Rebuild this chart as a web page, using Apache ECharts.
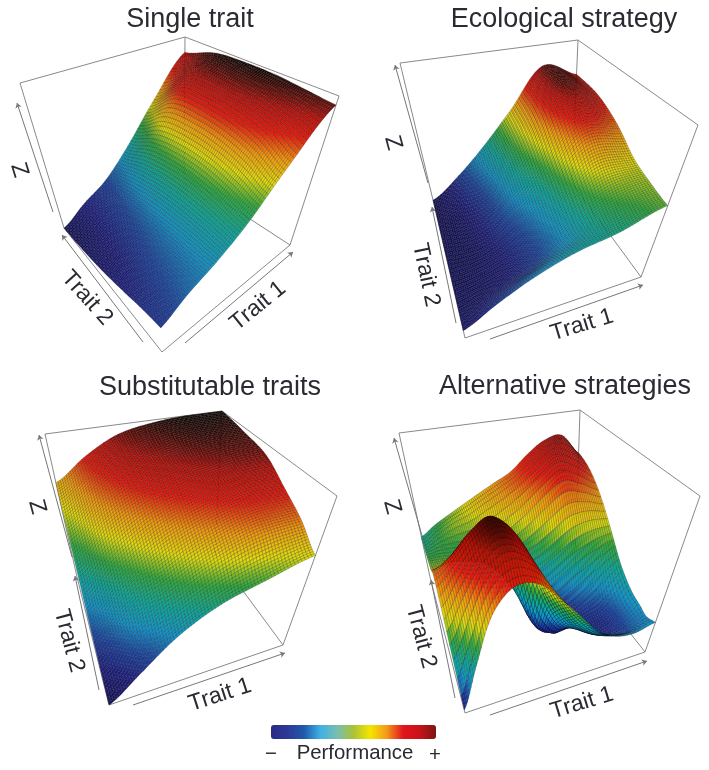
<!DOCTYPE html>
<html><head><meta charset="utf-8">
<style>html,body{margin:0;padding:0;background:#fff}#c{width:709px;height:770px;filter:blur(0.45px)}</style>
<script src="https://cdn.jsdelivr.net/npm/echarts@6/dist/echarts.min.js"></script>
</head><body><div id="c"></div>
<script>
// Surface heights. Rows: Trait 2 from front to back. Columns: Trait 1 from low to high.
const singleTraitZ = [
 [.155,.24,.32,.45,.68,.94],
 [.13,.21,.32,.49,.77,.96],
 [.09,.18,.31,.52,.82,.98],
 [.05,.14,.29,.52,.84,.985],
 [.02,.11,.25,.48,.82,.97],
 [0,.10,.20,.38,.63,.89]
];
const ecologicalStrategyZ = [
 [.05,.15,.25,.33,.38,.47],
 [.03,.07,.14,.27,.44,.50],
 [.02,.05,.14,.31,.55,.55],
 [.01,.05,.20,.40,.70,.66],
 [.01,.08,.26,.52,.84,.74],
 [0,.14,.33,.57,.85,.76]
];
const substitutableTraitsZ = [
 [0,.14,.31,.44,.52,.60],
 [.12,.30,.46,.60,.70,.72],
 [.26,.45,.62,.74,.81,.82],
 [.43,.62,.76,.85,.91,.93],
 [.57,.74,.86,.93,.97,.97],
 [.66,.81,.93,.98,1,1]
];
const alternativeStrategiesZ = [
 [.02,.27,.56,.70,.68,.54,.39,.25,.18,.16,.19],
 [.30,.50,.72,.82,.74,.52,.30,.18,.12,.11,.17],
 [.50,.66,.82,.90,.76,.44,.22,.12,.07,.08,.19],
 [.62,.72,.86,.92,.74,.34,.12,.08,.05,.08,.21],
 [.58,.66,.78,.84,.60,.12,.00,.03,.07,.12,.25],
 [.50,.54,.60,.60,.36,.06,.02,.07,.14,.22,.31],
 [.43,.44,.44,.42,.26,.14,.14,.22,.30,.36,.40],
 [.38,.38,.36,.32,.28,.28,.34,.42,.50,.52,.50],
 [.34,.36,.36,.36,.38,.44,.52,.62,.70,.66,.60],
 [.30,.36,.42,.46,.52,.58,.65,.74,.82,.78,.68],
 [.28,.35,.41,.47,.53,.59,.65,.75,.83,.85,.72]
];
const panelTitles = ['Single trait','Ecological strategy','Substitutable traits','Alternative strategies'];
const legendStops = ['#2b2a86','#2c3a96','#2159ac','#3fb2e4','#79bdb0','#a9c238','#f5e600','#f59a1a','#e2161c','#c81218','#7c1512'];
const surfaceStops = ['#15125c','#1e1e84','#1c46a6','#1296cc','#0fa89a','#30aa3e','#e2dc0c','#f49c0c','#ea1a0c','#b8120c','#140a06'];

// Projection of each plot box: corners A,B,C,D (bottom, then top) in the page plane.
const boxes = [
 {b:[[64,228],[184,176],[290,245],[162,352]], t:[[20,83],[185,37],[339,96],[154,197]], nu:72, nv:72, lw:.45, la:.44, g:1, cmax:1},
 {b:[[433,200],[572,183],[641,277],[465,338]], t:[[400,63],[578,40],[698,125],[430,192]], nu:80, nv:72, lw:.45, la:.44, g:1, cmax:1.04},
 {b:[[77,577],[215,553],[283,645],[109,705]], t:[[45,434],[222,411],[337,496],[76,560]], nu:72, nv:72, lw:.45, la:.44, g:1, cmax:1},
 {b:[[430,577],[575,563],[645,652],[465,713]], t:[[399,433],[580,410],[700,496],[432,560]], nu:90, nv:34, lw:.5, la:.42, g:.72, cmax:1.03}
];
const grids = [singleTraitZ, ecologicalStrategyZ, substitutableTraitsZ, alternativeStrategiesZ];

const arrows = [
 [[53,212],[17,103]],[[143,342],[62,235]],[[185,343],[293,252]],
 [[428,183],[395,65]],[[456,323],[432,207]],[[490,339],[643,285]],
 [[72,557],[39,435]],[[99,690],[75,576]],[[133,705],[285,653]],
 [[427,553],[394,438]],[[455,698],[431,580]],[[490,715],[647,661]]
];
const axisLabels = [
 ['Z',19,170,-73],['Trait 2',87,298,-48],['Trait 1',258,306,39],
 ['Z',393,143,-75],['Trait 2',426,275,-78],['Trait 1',582,325,17],
 ['Z',37,507,-75],['Trait 2',69,641,-75],['Trait 1',220,695,18],
 ['Z',392,507,-75],['Trait 2',421,637,-75],['Trait 1',582,703,17]
];
const titlePos = [[190,20],[564,20],[210,388],[565,387]];

function cr(p0,p1,p2,p3,t){
 return .5*((2*p1)+(-p0+p2)*t+(2*p0-5*p1+4*p2-p3)*t*t+(-p0+3*p1-3*p2+p3)*t*t*t);
}
function smooth1(a,s){
 const n=a.length-1, f=Math.min(s*n,n-1e-9), k=Math.floor(f), t=f-k;
 return cr(a[Math.max(k-1,0)],a[k],a[k+1],a[Math.min(k+2,n)],t);
}
function height(g,u,v){
 return Math.min(1,Math.max(0,smooth1(g.map(r=>smooth1(r,u)),v)));
}
function bil(q,u,v){
 const w=[(1-u)*v,u*v,u*(1-v),(1-u)*(1-v)];
 return [0,1].map(k=>w[0]*q[0][k]+w[1]*q[1][k]+w[2]*q[2][k]+w[3]*q[3][k]);
}
function buildSurface(g,box){
 const pts=[]; let zmax=0;
 for(let i=0;i<=box.nu;i++){const col=[];for(let j=0;j<=box.nv;j++){
  const u=i/box.nu,v=j/box.nv,z=height(g,u,v),b=bil(box.b,u,v),t=bil(box.t,u,v);
  zmax=Math.max(zmax,z);
  col.push([b[0]+(t[0]-b[0])*z,b[1]+(t[1]-b[1])*z,z]);
 }pts.push(col);}
 return {pts,zmax};
}
function surfaceSeries(g,box){
 const s=buildSurface(g,box), data=[];
 for(let j=box.nv-1;j>=0;j--)for(let i=box.nu-1;i>=0;i--)data.push([i,j]);
 const stroke='rgba(0,0,0,'+box.la+')';
 return {type:'custom',coordinateSystem:'cartesian2d',xAxisIndex:0,yAxisIndex:0,silent:true,animation:false,
  progressive:0,clip:false,z:5,data,encode:{x:0,y:1},
  renderItem:(p,api)=>{
   const i=api.value(0),j=api.value(1),q=[s.pts[i][j],s.pts[i+1][j],s.pts[i+1][j+1],s.pts[i][j+1]];
   const z=Math.pow((q[0][2]+q[1][2]+q[2][2]+q[3][2])/4/(s.zmax*box.cmax),box.g);
   return {type:'polygon',shape:{points:q.map(a=>api.coord([a[0],a[1]]))},
    style:{fill:echarts.color.lerp(z,surfaceStops),stroke,lineWidth:box.lw}};
  }};
}
const boxEdges=[];
boxes.forEach(b=>{
 [[b.t[0],b.t[1]],[b.t[1],b.t[2]],[b.t[0],b.b[0]],[b.t[2],b.b[2]],[b.t[1],b.b[1]],
  [b.b[0],b.b[3]],[b.b[3],b.b[2]],[b.b[2],b.b[1]]].forEach(e=>boxEdges.push({coords:e}));
});
const chart=echarts.init(document.getElementById('c'),null,{renderer:'canvas'});
const font='"Liberation Sans",Arial,sans-serif';
const graphicText=[];
panelTitles.forEach((t,i)=>graphicText.push({type:'text',x:titlePos[i][0],y:titlePos[i][1],
 style:{text:t,font:'27px '+font,fill:'#2a2a33',align:'center',verticalAlign:'middle'}}));
axisLabels.forEach(a=>graphicText.push({type:'text',x:a[1],y:a[2],rotation:a[3]*Math.PI/180,
 style:{text:a[0],font:'23px '+font,fill:'#2a2a33',align:'center',verticalAlign:'middle'}}));
[['−',271,754],['Performance',355,753],['+',435,755]].forEach(a=>graphicText.push({type:'text',x:a[1],y:a[2],
 style:{text:a[0],font:'20.4px '+font,fill:'#2a2a33',align:'center',verticalAlign:'middle'}}));
chart.setOption({
 animation:false,backgroundColor:'#fff',
 grid:{left:0,top:0,right:0,bottom:0},
 xAxis:{type:'value',min:0,max:709,show:false},
 yAxis:{type:'value',min:0,max:770,inverse:true,show:false},
 visualMap:{type:'continuous',orient:'horizontal',min:0,max:1,left:271,top:725,itemWidth:14,itemHeight:165,padding:0,
  calculable:false,text:null,showLabel:false,borderRadius:0,seriesIndex:6,inRange:{color:legendStops}},
 graphic:graphicText,
 series:[
  {type:'lines',coordinateSystem:'cartesian2d',silent:true,z:2,symbol:'none',lineStyle:{color:'#8a8a8a',width:1,opacity:1},data:boxEdges},
  ...grids.map((g,i)=>surfaceSeries(g,boxes[i])),
  {type:'lines',coordinateSystem:'cartesian2d',silent:true,z:3,symbol:['none','arrow'],symbolSize:5,lineStyle:{color:'#777',width:1,opacity:1},data:arrows.map(c=>({coords:c}))},
  {type:'scatter',data:[],silent:true}
 ]
});
</script></body></html>
